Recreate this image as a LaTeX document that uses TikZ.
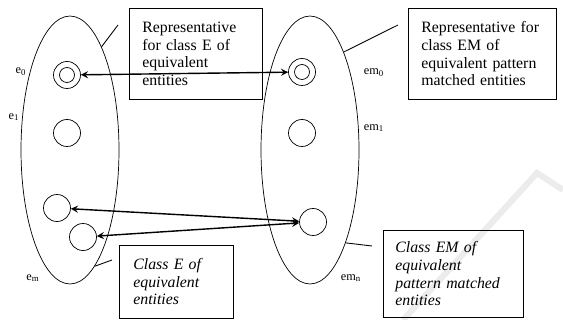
\documentclass[tikz,border=0pt]{standalone}
\usepackage{fontspec}
\setmainfont{Liberation Serif}
\usetikzlibrary{shapes.geometric, arrows}
\tikzstyle{classset} = [
    ellipse,
    minimum width=1.96cm,
    minimum height=5.36cm,
    inner sep=0pt,
    draw=black
]
\tikzstyle{entity} = [
    circle,
    minimum size=0.54cm,
    inner sep=0pt,
    draw=black
]
\tikzstyle{innerring} = [
    circle,
    minimum size=0.3cm,
    inner sep=0pt,
    draw=black
]
\tikzstyle{notebox} = [
    rectangle,
    anchor=north west,
    align=left,
    inner xsep=0.26cm,
    font=\fontsize{9}{10}\selectfont,
    draw=black
]
\tikzstyle{elabel} = [font=\fontsize{7}{8}\selectfont, inner sep=0pt]
\tikzstyle{leader} = [semithin]
\tikzstyle{arrow} = [thick,<->,>=stealth]

\begin{document}
\begin{tikzpicture}[x=0.02cm, y=-0.02cm, semithin/.style={line width=0.5pt}]
\useasboundingbox (0,0) rectangle (563,320);

% faint mark in the corner
\draw [gray!15, line width=3.5pt] (403,320) -- (537,173) -- (563,190);

\node (classE) [classset] at (70,150) {};
\node (classEM) [classset] at (310,150) {};

\node (repE) [entity] at (67,75) {};
\node (repEin) [innerring] at (repE) {};
\node (eOne) [entity] at (67,133) {};
\node (eA) [entity] at (57,208) {};
\node (eB) [entity] at (83,237) {};

\node (repEM) [entity] at (302,72) {};
\node (repEMin) [innerring] at (repEM) {};
\node (emOne) [entity] at (302,133) {};
\node (emB) [entity] at (313,222) {};

\node (labE0) [elabel] at (21,72) {e\textsubscript{0}};
\node (labE1) [elabel] at (14,117) {e\textsubscript{1}};
\node (labEm) [elabel] at (33,278) {e\textsubscript{m}};
\node (labEM0) [elabel] at (374,73) {em\textsubscript{0}};
\node (labEM1) [elabel] at (374,128) {em\textsubscript{1}};
\node (labEMn) [elabel] at (351,278) {em\textsubscript{n}};

\node (noteRepE) [notebox, text width=2.14cm, minimum height=1.82cm] at (129,8)
{Representative\\for class E of\\equivalent\\entities};

\node (noteRepEM) [notebox, text width=2.44cm, minimum height=1.82cm] at (408,8)
{Representative for\\class EM of\\equivalent pattern\\matched entities};

\node (noteE) [notebox, inner xsep=0.28cm, text width=1.72cm, minimum height=1.46cm,
    font=\fontsize{9}{10}\selectfont\itshape] at (119,245)
{Class E of\\equivalent\\entities};

\node (noteEM) [notebox, inner xsep=0.24cm, text width=2.32cm, minimum height=1.74cm,
    font=\fontsize{9}{10}\selectfont\itshape] at (383,230)
{Class EM of\\equivalent\\pattern matched\\entities};

\coordinate (tipRepE) at (118,25);
\coordinate (tipRepEM) at (398,25);
\coordinate (tipE) at (112,260);
\coordinate (tipEM) at (372,246);

\draw [leader] (classE.73) -- (tipRepE);
\draw [leader] (classEM.71) -- (tipRepEM);
\draw [leader] (classE.-78) -- (tipE);
\draw [leader] (classEM.-69) -- (tipEM);

\draw [arrow] (repE) -- (repEM);
\draw [arrow] (eA) -- (emB);
\draw [arrow] (eB) -- (emB);

\end{tikzpicture}
\end{document}
